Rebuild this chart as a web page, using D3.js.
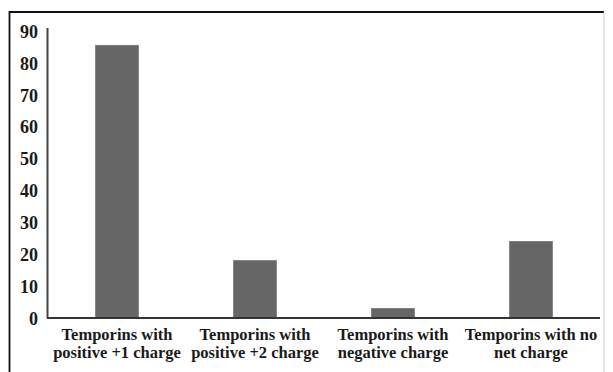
<!DOCTYPE html>
<html><head><meta charset="utf-8">
<script src="https://cdn.jsdelivr.net/npm/d3@7"></script>
<style>body{margin:0;background:#fff}svg{display:block}
text{font-family:"Liberation Serif","Times New Roman",Times,serif;font-weight:bold;fill:#1a1a1a}</style>
</head><body>
<script>
const categories = [["Temporins with","positive +1 charge"],["Temporins with","positive +2 charge"],["Temporins with","negative charge"],["Temporins with no","net charge"]];
const values = [85.5, 18, 3, 24];
const yTicks = [0,10,20,30,40,50,60,70,80,90];

const W=613,H=372;
const svg=d3.select("body").append("svg").attr("width",W).attr("height",H);
svg.append("rect").attr("width",W).attr("height",H).attr("fill","#fff");
svg.append("path").attr("d","M9.5,372 V12 H604").attr("fill","none").attr("stroke","#111").attr("stroke-width",1.8);
svg.append("path").attr("d","M604,12 V372").attr("fill","none").attr("stroke","#ccc").attr("stroke-width",1);

const x=d3.scaleBand().domain(d3.range(categories.length)).range([48,600]).paddingInner(0.69).paddingOuter(0.345);
const y=d3.scaleLinear().domain([0,90]).range([318,31]);

svg.selectAll("rect.bar").data(values).join("rect").attr("class","bar")
  .attr("x",(d,i)=>x(i)).attr("width",x.bandwidth())
  .attr("y",d=>y(d)).attr("height",d=>y(0)-y(d))
  .attr("fill","#666").attr("stroke","#777").attr("stroke-width",0.8);

svg.append("line").attr("x1",47.5).attr("x2",47.5).attr("y1",28).attr("y2",y(0)).attr("stroke","#444").attr("stroke-width",2);
svg.append("line").attr("x1",47).attr("x2",600).attr("y1",y(0)).attr("y2",y(0)).attr("stroke","#333").attr("stroke-width",2);

const yAxis=d3.axisLeft(y).tickValues(yTicks).tickSize(0).tickPadding(0);
const gy=svg.append("g").attr("transform","translate(38,0)").call(yAxis);
gy.select(".domain").remove();
gy.attr("font-family",null).attr("font-size",null);
gy.selectAll("text").style("font-size","18px").attr("dy","0.35em");

const gx=svg.append("g");
categories.forEach((c,i)=>{
  const cx=x(i)+x.bandwidth()/2;
  const t=gx.append("text").attr("text-anchor","middle").style("font-size","16.5px");
  c.forEach((s,j)=>t.append("tspan").attr("x",cx).attr("y",340+j*18).text(s));
});
</script>
</body></html>
